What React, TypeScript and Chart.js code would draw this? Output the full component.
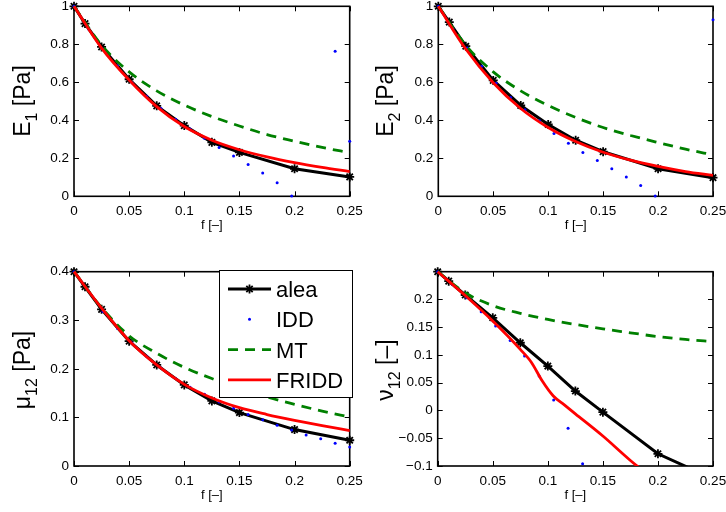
import { useEffect, useRef } from 'react';
import { Chart, registerables } from 'chart.js';

Chart.register(...registerables);

// ---------- data ----------
const F_ALEA = [0, 0.01, 0.025, 0.05, 0.075, 0.1, 0.125, 0.15, 0.2, 0.25];
const F_IDD = [0, 0.0132, 0.0263, 0.0395, 0.0526, 0.0658, 0.0789, 0.0921, 0.1053, 0.1184, 0.1316, 0.1447, 0.1579, 0.1711, 0.1842, 0.1974, 0.2105, 0.2237, 0.2368, 0.25];
const F_MODEL = [0, 0.025, 0.05, 0.075, 0.1, 0.125, 0.15, 0.175, 0.2, 0.225, 0.25];
const F_NU_FRIDD = [0, 0.025, 0.05, 0.075, 0.085, 0.095, 0.105, 0.115, 0.125, 0.15, 0.175, 0.2];

const E1_ALEA = [1, 0.909, 0.786, 0.616, 0.476, 0.372, 0.284, 0.231, 0.145, 0.102];
const E1_IDD = [1, 0.88, 0.775, 0.687, 0.598, 0.527, 0.462, 0.405, 0.354, 0.305, 0.257, 0.212, 0.167, 0.122, 0.071, 0.002, null, null, 0.764, 0.29];
const E1_MT = [1, 0.795, 0.655, 0.555, 0.48, 0.42, 0.37, 0.325, 0.29, 0.257, 0.23];
const E1_FRIDD = [1, 0.78, 0.612, 0.472, 0.367, 0.295, 0.245, 0.207, 0.177, 0.152, 0.13];

const E2_ALEA = [1, 0.917, 0.79, 0.61, 0.478, 0.378, 0.295, 0.235, 0.145, 0.098];
const E2_IDD = [1, 0.885, 0.78, 0.685, 0.595, 0.52, 0.455, 0.398, 0.33, 0.279, 0.231, 0.188, 0.145, 0.102, 0.057, 0.002, null, null, null, 0.929];
const E2_MT = [1, 0.795, 0.655, 0.555, 0.478, 0.415, 0.362, 0.32, 0.283, 0.248, 0.218];
const E2_FRIDD = [1, 0.775, 0.598, 0.462, 0.362, 0.288, 0.232, 0.19, 0.157, 0.13, 0.11];

const MU_ALEA = [0.4, 0.369, 0.3225, 0.257, 0.208, 0.167, 0.134, 0.11, 0.075, 0.053];
const MU_IDD = [0.4, 0.361, 0.318, 0.283, 0.253, 0.226, 0.202, 0.18, 0.162, 0.1475, 0.132, 0.119, 0.106, 0.095, 0.084, 0.074, 0.064, 0.056, 0.047, 0.039];
const MU_MT = [0.4, 0.326, 0.268, 0.232, 0.203, 0.18, 0.16, 0.142, 0.127, 0.113, 0.101];
const MU_FRIDD = [0.4, 0.325, 0.258, 0.208, 0.168, 0.14, 0.12, 0.106, 0.094, 0.083, 0.073];

const NU_ALEA = [0.25, 0.233, 0.208, 0.167, 0.122, 0.08, 0.035, -0.003, -0.078, -0.123];
const NU_IDD = [0.25, 0.227, 0.203, 0.178, 0.152, 0.126, 0.098, 0.062, 0.019, -0.032, -0.096, null, null, null, null, null, null, null, null, null];
const NU_MT = [0.25, 0.212, 0.189, 0.175, 0.164, 0.155, 0.147, 0.14, 0.133, 0.128, 0.124];
const NU_FRIDD = [0.25, 0.207, 0.161, 0.11, 0.087, 0.053, 0.026, 0.01, -0.006, -0.046, -0.09, -0.13];

const SERIES_NAMES = ['alea', 'IDD', 'MT', 'FRIDD'];

const X_TICKS = [0, 0.05, 0.1, 0.15, 0.2, 0.25];
const X_TICK_LABELS = ['0', '0.05', '0.1', '0.15', '0.2', '0.25'];
const E_TICKS = [0, 0.2, 0.4, 0.6, 0.8, 1];
const E_TICK_LABELS = ['0', '0.2', '0.4', '0.6', '0.8', '1'];
const MU_TICKS = [0, 0.1, 0.2, 0.3, 0.4];
const MU_TICK_LABELS = ['0', '0.1', '0.2', '0.3', '0.4'];
const NU_TICKS = [-0.1, -0.05, 0, 0.05, 0.1, 0.15, 0.2];
const NU_TICK_LABELS = ['\u22120.1', '\u22120.05', '0', '0.05', '0.1', '0.15', '0.2'];

const X_TITLE = 'f [\u2013]';

// ---------- style ----------
const FONT = "'Liberation Sans', Arial, Helvetica, sans-serif";
const C_BLACK = '#000000';
const C_BLUE = '#0000ff';
const C_GREEN = '#008000';
const C_RED = '#ff0000';
const DASH = [10, 7];
const W = 363;
const H = 256;

const pts = (xs: number[], ys: (number | null)[]) =>
  xs.map((x, i) => ({ x, y: ys[i] })).filter((p) => p.y !== null && p.y !== undefined);

function drawStar(ctx: CanvasRenderingContext2D, x: number, y: number, r: number) {
  ctx.beginPath();
  ctx.moveTo(x - r, y); ctx.lineTo(x + r, y);
  ctx.moveTo(x, y - r); ctx.lineTo(x, y + r);
  const d = r * 0.7071;
  ctx.moveTo(x - d, y - d); ctx.lineTo(x + d, y + d);
  ctx.moveTo(x - d, y + d); ctx.lineTo(x + d, y - d);
  ctx.stroke();
}

type PanelProps = {
  left: number;
  top: number;
  area: { L: number; R: number; T: number; B: number };
  yMin: number;
  yMax: number;
  yTicks: number[];
  yTickLabels: string[];
  yTitle: [string, boolean][];
  yTitleCenter: number;
  series: { alea: number[]; idd: (number | null)[]; mt: number[]; fridd: number[]; fFridd: number[] };
  clipBottom: number;
  legend?: boolean;
};

function Panel(p: PanelProps) {
  const ref = useRef<HTMLCanvasElement>(null);
  useEffect(() => {
    const clip = { left: 8, top: 8, right: 8, bottom: p.clipBottom };
    const labelFor = (ticks: number[], labels: string[]) => (v: any) => {
      const i = ticks.findIndex((t) => Math.abs(t - Number(v)) < 1e-9);
      return i >= 0 ? labels[i] : '';
    };
    const deco = {
      id: 'deco',
      beforeDatasetsDraw(chart: any) {
        const { ctx, chartArea: a } = chart;
        const xs = chart.scales.x;
        const ys = chart.scales.y;
        ctx.save();
        ctx.strokeStyle = '#000';
        ctx.lineWidth = 1;
        const tl = 5;
        X_TICKS.forEach((v) => {
          const x = Math.round(xs.getPixelForValue(v)) + 0.5;
          ctx.beginPath();
          ctx.moveTo(x, a.bottom); ctx.lineTo(x, a.bottom - tl);
          ctx.moveTo(x, a.top); ctx.lineTo(x, a.top + tl);
          ctx.stroke();
        });
        p.yTicks.forEach((v) => {
          const y = Math.round(ys.getPixelForValue(v)) + 0.5;
          ctx.beginPath();
          ctx.moveTo(a.left, y); ctx.lineTo(a.left + tl, y);
          ctx.moveTo(a.right, y); ctx.lineTo(a.right - tl, y);
          ctx.stroke();
        });
        ctx.lineWidth = 1.6;
        ctx.strokeRect(a.left, a.top, a.right - a.left, a.bottom - a.top);
        ctx.restore();
      },
      afterDraw(chart: any) {
        const { ctx, chartArea: a } = chart;
        ctx.save();
        // x title
        ctx.fillStyle = '#000';
        ctx.font = `13px ${FONT}`;
        ctx.textAlign = 'center';
        ctx.textBaseline = 'middle';
        ctx.fillText(X_TITLE, (a.left + a.right) / 2, a.bottom + 29);
        // y title with subscript
        const mainFont = `23px ${FONT}`;
        const subFont = `16px ${FONT}`;
        let total = 0;
        p.yTitle.forEach(([t, sub]) => {
          ctx.font = sub ? subFont : mainFont;
          total += ctx.measureText(t).width;
        });
        ctx.translate(30, p.yTitleCenter);
        ctx.rotate(-Math.PI / 2);
        ctx.textAlign = 'left';
        ctx.textBaseline = 'alphabetic';
        let cx = -total / 2;
        p.yTitle.forEach(([t, sub]) => {
          ctx.font = sub ? subFont : mainFont;
          ctx.fillText(t, cx, sub ? 7 : 0);
          cx += ctx.measureText(t).width;
        });
        ctx.restore();

        if (p.legend) {
          ctx.save();
          const bx = 219, by = 14, bw = 133, bh = 127;
          ctx.fillStyle = '#fff';
          ctx.fillRect(bx, by, bw, bh);
          ctx.strokeStyle = '#000';
          ctx.lineWidth = 1;
          ctx.strokeRect(bx + 0.5, by + 0.5, bw, bh);
          const x1 = 228, x2 = 271, mx = (x1 + x2) / 2;
          chart.data.datasets.forEach((ds: any, i: number) => {
            const y = by + 19 + i * 30.3;
            ctx.strokeStyle = ds.borderColor;
            ctx.fillStyle = ds.borderColor;
            if (ds.showLine !== false) {
              ctx.lineWidth = ds.borderWidth;
              ctx.setLineDash(ds.borderDash || []);
              ctx.beginPath();
              ctx.moveTo(x1, y); ctx.lineTo(x2, y);
              ctx.stroke();
              ctx.setLineDash([]);
            }
            if (ds.pointStyle === 'star') {
              ctx.lineWidth = 1.8;
              drawStar(ctx, mx, y, 4.5);
            } else if (ds.showLine === false) {
              ctx.beginPath();
              ctx.arc(mx, y, 1.5, 0, Math.PI * 2);
              ctx.fill();
            }
            ctx.fillStyle = '#000';
            ctx.font = `22px ${FONT}`;
            ctx.textAlign = 'left';
            ctx.textBaseline = 'alphabetic';
            ctx.fillText(ds.label, 276, y + 8);
          });
          ctx.restore();
        }
      },
    };

    const s = p.series;
    const chart = new Chart(ref.current as HTMLCanvasElement, {
      type: 'line',
      data: {
        datasets: [
          {
            label: SERIES_NAMES[0],
            data: pts(F_ALEA, s.alea),
            borderColor: C_BLACK,
            backgroundColor: C_BLACK,
            borderWidth: 3,
            pointStyle: 'star',
            pointRadius: 4.5,
            pointBorderWidth: 1.8,
            pointBorderColor: C_BLACK,
            tension: 0,
            order: 3,
            clip,
          },
          {
            label: SERIES_NAMES[1],
            data: pts(F_IDD, s.idd),
            borderColor: C_BLUE,
            backgroundColor: C_BLUE,
            showLine: false,
            pointStyle: 'circle',
            pointRadius: 1.5,
            pointBorderWidth: 0,
            order: 2,
            clip,
          },
          {
            label: SERIES_NAMES[2],
            data: pts(F_MODEL, s.mt),
            borderColor: C_GREEN,
            backgroundColor: C_GREEN,
            borderWidth: 2.8,
            borderDash: DASH,
            pointRadius: 0,
            cubicInterpolationMode: 'monotone',
            order: 1,
            clip,
          },
          {
            label: SERIES_NAMES[3],
            data: pts(s.fFridd, s.fridd),
            borderColor: C_RED,
            backgroundColor: C_RED,
            borderWidth: 2.8,
            pointRadius: 0,
            cubicInterpolationMode: 'monotone',
            order: 0,
            clip,
          },
        ] as any,
      },
      options: {
        responsive: false,
        animation: false,
        devicePixelRatio: 1,
        layout: { padding: { top: p.area.T, right: W - p.area.R, left: 0, bottom: 0 } },
        plugins: { legend: { display: false }, tooltip: { enabled: false } },
        scales: {
          x: {
            type: 'linear',
            min: 0,
            max: 0.25,
            grid: { display: false, drawTicks: false, tickLength: 0 },
            border: { display: false },
            afterBuildTicks: (sc: any) => { sc.ticks = X_TICKS.map((v) => ({ value: v })); },
            afterFit: (sc: any) => { sc.height = H - p.area.B; sc.paddingLeft = 0; sc.paddingRight = 0; },
            ticks: {
              color: '#000',
              font: { family: FONT, size: 13.5 },
              padding: 7,
              maxRotation: 0,
              autoSkip: false,
              callback: labelFor(X_TICKS, X_TICK_LABELS),
            },
          },
          y: {
            type: 'linear',
            min: p.yMin,
            max: p.yMax,
            grid: { display: false, drawTicks: false, tickLength: 0 },
            border: { display: false },
            afterBuildTicks: (sc: any) => { sc.ticks = p.yTicks.map((v) => ({ value: v })); },
            afterFit: (sc: any) => { sc.width = p.area.L; sc.paddingTop = 0; sc.paddingBottom = 0; },
            ticks: {
              color: '#000',
              font: { family: FONT, size: 13.5 },
              padding: 5,
              autoSkip: false,
              callback: labelFor(p.yTicks, p.yTickLabels),
            },
          },
        },
      } as any,
      plugins: [deco],
    });
    return () => chart.destroy();
  }, []);
  return (
    <canvas
      ref={ref}
      width={W}
      height={H}
      style={{ position: 'absolute', left: p.left, top: p.top, width: W, height: H }}
    />
  );
}

export default function App() {
  return (
    <div style={{ position: 'absolute', left: 0, top: 0, width: 726, height: 512, background: '#fff', overflow: 'hidden' }}>
      <Panel
        left={0}
        top={0}
        area={{ L: 74, R: 349.7, T: 2.8, B: 196.3 }}
        yMin={0}
        yMax={1}
        yTicks={E_TICKS}
        yTickLabels={E_TICK_LABELS}
        yTitle={[['E', false], ['1', true], [' [Pa]', false]]}
        yTitleCenter={101}
        series={{ alea: E1_ALEA, idd: E1_IDD, mt: E1_MT, fridd: E1_FRIDD, fFridd: F_MODEL }}
        clipBottom={3}
      />
      <Panel
        left={363}
        top={0}
        area={{ L: 75.3, R: 350, T: 2.8, B: 196.3 }}
        yMin={0}
        yMax={1}
        yTicks={E_TICKS}
        yTickLabels={E_TICK_LABELS}
        yTitle={[['E', false], ['2', true], [' [Pa]', false]]}
        yTitleCenter={101}
        series={{ alea: E2_ALEA, idd: E2_IDD, mt: E2_MT, fridd: E2_FRIDD, fFridd: F_MODEL }}
        clipBottom={3}
      />
      <Panel
        left={0}
        top={256}
        area={{ L: 74, R: 349.7, T: 15.7, B: 210 }}
        yMin={0}
        yMax={0.4}
        yTicks={MU_TICKS}
        yTickLabels={MU_TICK_LABELS}
        yTitle={[['\u03bc', false], ['12', true], [' [Pa]', false]]}
        yTitleCenter={114}
        series={{ alea: MU_ALEA, idd: MU_IDD, mt: MU_MT, fridd: MU_FRIDD, fFridd: F_MODEL }}
        clipBottom={3}
        legend
      />
      <Panel
        left={363}
        top={256}
        area={{ L: 74.7, R: 350, T: 15.7, B: 210 }}
        yMin={-0.1}
        yMax={0.25}
        yTicks={NU_TICKS}
        yTickLabels={NU_TICK_LABELS}
        yTitle={[['\u03bd', false], ['12', true], [' [\u2013]', false]]}
        yTitleCenter={114}
        series={{ alea: NU_ALEA, idd: NU_IDD, mt: NU_MT, fridd: NU_FRIDD, fFridd: F_NU_FRIDD }}
        clipBottom={0}
      />
    </div>
  );
}
